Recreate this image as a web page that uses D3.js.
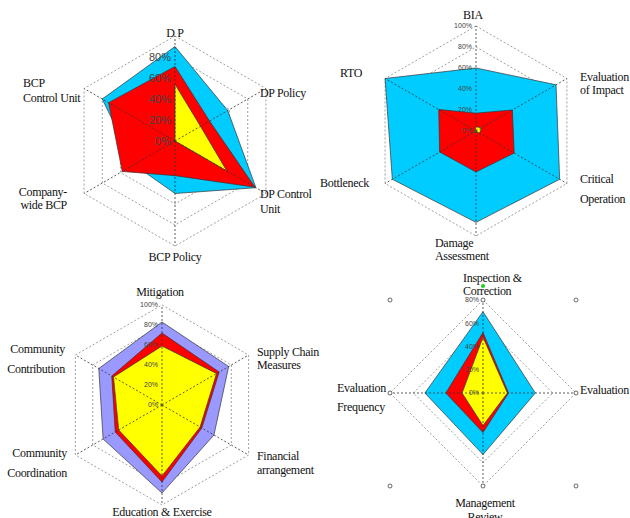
<!DOCTYPE html>
<html>
<head>
<meta charset="utf-8">
<script src="https://cdn.jsdelivr.net/npm/d3@7"></script>
<style>
body { margin: 0; background: #fff; }
.lbl { font-family: "Liberation Serif", "Times New Roman", serif; font-size: 12px; letter-spacing: -0.3px; fill: #111; }
.tick { font-family: "Liberation Sans", Arial, sans-serif; fill: #444; }
</style>
</head>
<body>
<svg width="630" height="518"></svg>
<script>
// chart 1 : DP / BCP
const dpAxes = ['D P', 'DP Policy', 'DP Control Unit', 'BCP Policy', 'Company-wide BCP', 'BCP Control Unit']
const dpCyan = [0.90, 0.58, 0.89, 0.50, 0.45, 0.80]
const dpRed = [0.71, 0.38, 0.88, 0.33, 0.58, 0.73]
const dpYellow = [0.54, 0.28, 0.57, 0, 0, 0]
const dpTicks = [0, 0.2, 0.4, 0.6, 0.8]

// chart 2 : BIA
const biaAxes = ['BIA', 'Evaluation of Impact', 'Critical Operation', 'Damage Assessment', 'Bottleneck', 'RTO']
const biaCyan = [0.60, 0.88, 0.92, 0.87, 0.92, 1.0]
const biaRed = [0.17, 0.40, 0.42, 0.39, 0.40, 0.41]
const biaYellow = [0.04, 0.06, 0.04, 0.01, 0.03, 0.01]
const biaTicks = [0, 0.2, 0.4, 0.6, 0.8, 1.0]

// chart 3 : Mitigation
const mitAxes = ['Mitigation', 'Supply Chain Measures', 'Financial arrangement', 'Education & Exercise', 'Community Coordination', 'Community Contribution']
const mitPurple = [0.83, 0.77, 0.60, 0.88, 0.68, 0.73]
const mitRed = [0.72, 0.66, 0.46, 0.77, 0.54, 0.58]
const mitYellow = [0.59, 0.63, 0.44, 0.71, 0.50, 0.56]
const mitTicks = [0, 0.2, 0.4, 0.6, 0.8, 1.0]

// chart 4 : Inspection
const insAxes = ['Inspection & Correction', 'Evaluation', 'Management Review', 'Evaluation Frequency']
const insCyan = [0.70, 0.45, 0.53, 0.50]
const insRed = [0.52, 0.22, 0.34, 0.32]
const insYellow = [0.48, 0.21, 0.28, 0.18]
const insTicks = [0, 0.2, 0.4, 0.6, 0.8]
const insMarkers = [[-0.8, -0.8], [0.8, -0.8], [-0.8, 0.8], [0.8, 0.8], [-0.8, 0], [0.8, 0], [0, 0.8], [0, -0.8]]

const pct = d3.format('.0%')
const svg = d3.select('svg')

function radar (o) {
  const g = svg.append('g').attr('transform', `translate(${o.cx},${o.cy})`)
  const n = o.axes.length
  const r = d3.scaleLinear().domain([0, o.max]).range([0, o.radius])
  const ang = (i) => i * 2 * Math.PI / n
  const pt = (v, i) => [r(v) * Math.sin(ang(i)), -r(v) * Math.cos(ang(i))]
  const closed = d3.line().curve(d3.curveLinearClosed)

  // rings
  g.selectAll('.ring').data(o.rings).join('path')
    .attr('d', (v) => closed(o.axes.map((a, i) => pt(v, i))))
    .attr('fill', 'none').attr('stroke', '#888').attr('stroke-width', 0.8)
    .attr('stroke-dasharray', '2,2')

  // series
  o.series.forEach((s) => {
    g.append('path')
      .attr('d', closed(s.values.map(pt)))
      .attr('fill', s.color).attr('stroke', '#333').attr('stroke-width', 0.7)
  })

  // spokes
  g.selectAll('.spoke').data(o.axes).join('line')
    .attr('x1', 0).attr('y1', 0)
    .attr('x2', (d, i) => pt(o.max, i)[0]).attr('y2', (d, i) => pt(o.max, i)[1])
    .attr('stroke', '#333').attr('stroke-width', 0.8).attr('stroke-dasharray', '2,2')

  // tick labels
  g.selectAll('.tick').data(o.ticks).join('text')
    .attr('class', 'tick')
    .attr('x', -4).attr('y', (v) => -r(v))
    .attr('dy', '0.35em')
    .attr('text-anchor', 'end')
    .style('font-size', o.tickSize + 'px')
    .text(pct)

  return { g, r }
}

function labels (list) {
  list.forEach((l) => {
    const t = svg.append('text').attr('class', 'lbl')
      .attr('x', l.x).attr('y', l.y).attr('text-anchor', l.a || 'start')
    l.t.forEach((line, k) => {
      t.append('tspan').attr('x', l.x).attr('dy', k === 0 ? 0 : (l.lh || 14)).text(line)
    })
  })
}

radar({
  cx: 175, cy: 141, radius: 105, max: 1, axes: dpAxes,
  rings: [0.2, 0.4, 0.6, 0.8, 1.0], ticks: dpTicks, tickSize: 11,
  series: [
    { values: dpCyan, color: '#00CCFF' },
    { values: dpRed, color: '#FF0000' },
    { values: dpYellow, color: '#FFFF00' }
  ]
})
labels([
  { t: ['D P'], x: 175, y: 37, a: 'middle' },
  { t: ['DP Policy'], x: 260, y: 97 },
  { t: ['DP Control', 'Unit'], x: 260, y: 198, lh: 15 },
  { t: ['BCP Policy'], x: 175, y: 261, a: 'middle' },
  { t: ['Company-', 'wide BCP'], x: 67, y: 196, a: 'end', lh: 13 },
  { t: ['BCP', 'Control Unit'], x: 23, y: 87, lh: 15 }
])

radar({
  cx: 476, cy: 131, radius: 105, max: 1, axes: biaAxes,
  rings: [0.2, 0.4, 0.6, 0.8, 1.0], ticks: biaTicks, tickSize: 7,
  series: [
    { values: biaCyan, color: '#00CCFF' },
    { values: biaRed, color: '#FF0000' },
    { values: biaYellow, color: '#FFFF00' }
  ]
})
labels([
  { t: ['BIA'], x: 473, y: 19, a: 'middle' },
  { t: ['Evaluation', 'of Impact'], x: 580, y: 81, lh: 13 },
  { t: ['Critical', 'Operation'], x: 580, y: 183, lh: 20 },
  { t: ['Damage', 'Assessment'], x: 435, y: 247, lh: 13 },
  { t: ['Bottleneck'], x: 320, y: 187 },
  { t: ['RTO'], x: 340, y: 77 }
])

radar({
  cx: 162, cy: 405, radius: 100, max: 1, axes: mitAxes,
  rings: [0.2, 0.4, 0.6, 0.8, 1.0], ticks: mitTicks, tickSize: 7,
  series: [
    { values: mitPurple, color: '#9999FF' },
    { values: mitRed, color: '#FF0000' },
    { values: mitYellow, color: '#FFFF00' }
  ]
})
labels([
  { t: ['Mitigation'], x: 160, y: 296, a: 'middle' },
  { t: ['Supply Chain', 'Measures'], x: 257, y: 356, lh: 13 },
  { t: ['Financial', 'arrangement'], x: 257, y: 460, lh: 14 },
  { t: ['Education & Exercise'], x: 162, y: 516, a: 'middle' },
  { t: ['Community', 'Coordination'], x: 67, y: 457, a: 'end', lh: 20 },
  { t: ['Community', 'Contribution'], x: 65, y: 353, a: 'end', lh: 20 }
])

const ins = radar({
  cx: 483, cy: 393, radius: 93, max: 0.8, axes: insAxes,
  rings: [0.2, 0.4, 0.6, 0.8], ticks: insTicks, tickSize: 7,
  series: [
    { values: insCyan, color: '#00CCFF' },
    { values: insRed, color: '#FF0000' },
    { values: insYellow, color: '#FFFF00' }
  ]
})
ins.g.selectAll('.mk').data(insMarkers).join('circle')
  .attr('cx', (d) => ins.r(d[0])).attr('cy', (d) => ins.r(d[1]))
  .attr('r', 2).attr('fill', '#fff').attr('stroke', '#444').attr('stroke-width', 0.8)
ins.g.append('circle')
  .attr('cx', 0).attr('cy', -ins.r(0.8) - 14).attr('r', 2)
  .attr('fill', '#22CC22')
labels([
  { t: ['Inspection &', 'Correction'], x: 463, y: 282, lh: 13 },
  { t: ['Evaluation'], x: 580, y: 394 },
  { t: ['Evaluation', 'Frequency'], x: 337, y: 392, lh: 19 },
  { t: ['Management', 'Review'], x: 485, y: 507, a: 'middle', lh: 14 }
])
</script>
</body>
</html>
